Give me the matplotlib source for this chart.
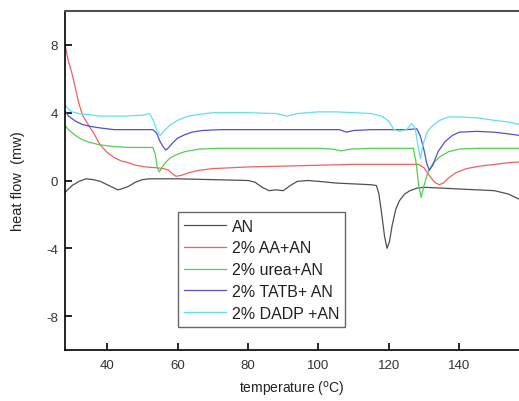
import numpy as np
import matplotlib
matplotlib.use('Agg')
import matplotlib.pyplot as plt

plt.rcParams['font.family'] = ['Liberation Sans', 'DejaVu Sans']
plt.rcParams['axes.unicode_minus'] = False

# DSC curves (temperature in C, heat flow in mW)
t_an = [28, 30, 32, 34, 36, 38, 40, 42, 43, 44, 46, 48, 50, 52, 56, 60, 70, 80, 82, 84, 86, 88, 90,
        92, 94, 97, 100, 105, 110, 115, 116.5, 117.2, 118, 118.8, 119.5, 120.2, 121, 122, 123, 124.5,
        126, 128, 130, 135, 140, 145, 150, 152, 154, 156, 157.5]
v_an = [-0.7, -0.3, -0.05, 0.1, 0.05, -0.05, -0.25, -0.45, -0.55, -0.5, -0.35, -0.1, 0.05, 0.1, 0.1,
        0.1, 0.05, 0.0, -0.1, -0.4, -0.6, -0.55, -0.6, -0.3, -0.05, 0.0, -0.05, -0.15, -0.2, -0.25,
        -0.3, -0.8, -2.0, -3.3, -4.0, -3.6, -2.6, -1.7, -1.2, -0.8, -0.6, -0.45, -0.4, -0.45, -0.5,
        -0.55, -0.6, -0.7, -0.8, -1.0, -1.15]

t_aa = [28, 29, 30, 31, 32, 33, 34, 35, 36, 38, 40, 42, 44, 46, 48, 51, 54, 56, 57.5, 58.5, 59.5, 61,
        63, 66, 70, 80, 90, 100, 110, 120, 128.5, 130, 131.5, 133, 134.3, 135.5, 137, 139, 142, 146,
        150, 154, 157.5]
v_aa = [8.0, 7.0, 6.3, 5.4, 4.5, 3.85, 3.5, 3.15, 2.85, 2.1, 1.65, 1.35, 1.15, 1.05, 0.9, 0.8, 0.75,
        0.7, 0.6, 0.4, 0.25, 0.3, 0.45, 0.6, 0.7, 0.8, 0.85, 0.9, 0.95, 0.95, 0.95, 0.75, 0.3, -0.1,
        -0.25, -0.15, 0.15, 0.45, 0.7, 0.85, 0.95, 1.05, 1.1]

t_urea = [28, 29, 31, 33, 35, 38, 42, 46, 50, 53, 53.7, 54.2, 54.8, 55.5, 56.5, 58, 60, 62, 66, 72,
          80, 90, 100, 104, 106.5, 109, 115, 120, 127, 127.8, 128.5, 129.2, 130, 131, 132.5, 134.5,
          137, 140, 145, 150, 157.5]
v_urea = [3.25, 3.0, 2.65, 2.4, 2.25, 2.1, 2.0, 1.95, 1.95, 1.95, 1.5, 0.8, 0.5, 0.75, 1.05, 1.35,
          1.55, 1.7, 1.85, 1.9, 1.9, 1.9, 1.9, 1.85, 1.75, 1.85, 1.9, 1.9, 1.9, 1.0, -0.3, -1.0,
          -0.3, 0.4, 1.0, 1.4, 1.7, 1.85, 1.9, 1.9, 1.9]

t_tatb = [28, 29, 31, 33, 35, 38, 42, 47, 53, 54, 55, 56, 56.7, 57.5, 58.5, 60, 62, 64, 67, 72, 80,
          90, 100, 106, 108, 110, 115, 120, 125, 128, 129, 130, 130.8, 131.5, 132.5, 134, 136, 138,
          140, 145, 150, 154, 157.5]
v_tatb = [4.1, 3.8, 3.5, 3.3, 3.2, 3.1, 3.0, 3.0, 3.0, 2.8, 2.3, 1.95, 1.8, 1.95, 2.2, 2.5, 2.7,
          2.85, 2.95, 3.0, 3.0, 3.0, 3.0, 3.0, 2.85, 2.95, 3.0, 3.0, 3.0, 3.05, 2.6, 1.8, 1.0, 0.6,
          0.9, 1.7, 2.3, 2.65, 2.85, 2.9, 2.85, 2.75, 2.65]

t_dadp = [28, 29, 30, 32, 34, 38, 45, 50, 52, 53, 54, 55, 56, 58, 60, 63, 66, 70, 80, 88, 91, 94,
          100, 105, 110, 115, 118, 120, 121.5, 123, 125, 126.5, 127.5, 128.3, 129, 129.8, 131, 132.5,
          134.5, 137, 140, 145, 150, 154, 157.5]
v_dadp = [4.5, 4.2, 4.05, 3.95, 3.9, 3.8, 3.8, 3.85, 3.95, 3.6, 3.0, 2.65, 2.9, 3.3, 3.55, 3.8, 3.9,
          4.0, 4.0, 3.95, 3.8, 3.95, 4.05, 4.05, 4.0, 3.95, 3.8, 3.5, 3.0, 2.9, 3.0, 3.35, 3.1, 2.0,
          1.3, 2.2, 2.9, 3.25, 3.55, 3.75, 3.75, 3.7, 3.55, 3.45, 3.3]

labels = ['AN', '2% AA+AN', '2% urea+AN', '2% TATB+ AN', '2% DADP +AN']
colors = ['#505050', '#f06060', '#50d050', '#5050d0', '#60e0f0']

fig = plt.figure(figsize=(5.19, 4.02), dpi=100)
ax = fig.add_axes([65/519, 1-351/402, 1-65/519, (351-12)/402])

series = [(t_an, v_an), (t_aa, v_aa), (t_urea, v_urea), (t_tatb, v_tatb), (t_dadp, v_dadp)]
for (t, v), lab, c in zip(series, labels, colors):
    ax.plot(t, v, color=c, lw=0.9, label=lab)

ax.set_xlim(28, 157)
ax.set_ylim(-10, 10)
ax.set_xticks([40, 60, 80, 100, 120, 140])
ax.set_yticks([-8, -4, 0, 4, 8])
ax.tick_params(direction='in', length=5, width=1.2, labelsize=9.5, labelcolor='#333333')
ax.tick_params(axis='x', pad=6.5)
ax.tick_params(axis='y', pad=5)
ax.spines['right'].set_visible(False)
ax.spines['top'].set_color('#505050')
ax.spines['top'].set_linewidth(1.5)
for s in ['left', 'bottom']:
    ax.spines[s].set_linewidth(1.2)

ax.set_xlabel('temperature ($^{\\rm o}$C)', fontsize=10, labelpad=6, color='#222222')
ax.set_ylabel('heat flow  (mw)', fontsize=10.5, labelpad=15, color='#222222')

leg = ax.legend(loc='lower left', bbox_to_anchor=(0.249, 0.068), fontsize=11.5, frameon=True,
                fancybox=False, edgecolor='#404040', handlelength=2.6, labelspacing=0.42,
                borderpad=0.4, handletextpad=0.35, borderaxespad=0)
leg.get_frame().set_linewidth(1.0)
for txt in leg.get_texts():
    txt.set_color('#222222')

fig.savefig('out.png', dpi=100)
